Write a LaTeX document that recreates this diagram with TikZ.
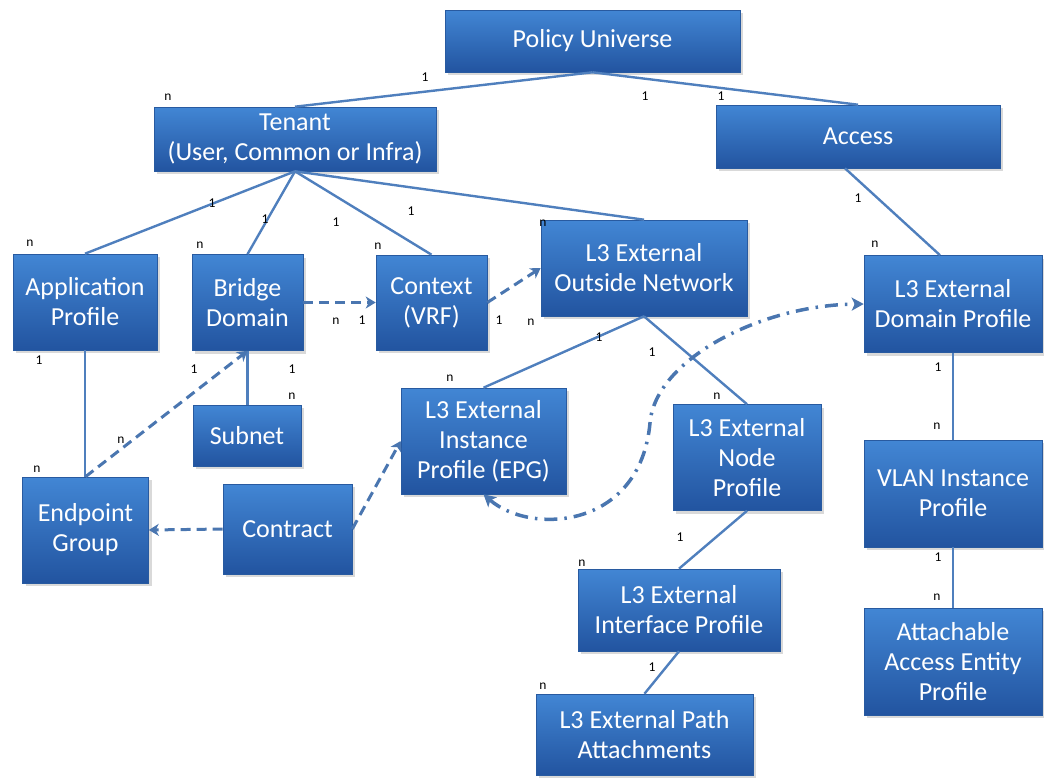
\documentclass[tikz,border=0pt]{standalone}
\usepackage{fontspec}
\setmainfont{Carlito}
\usetikzlibrary{arrows.meta,shadows}
\definecolor{boxtop}{RGB}{66,134,212}
\definecolor{boxbot}{RGB}{34,84,160}
\definecolor{boxedge}{RGB}{40,90,160}
\definecolor{link}{RGB}{79,127,189}
\definecolor{linkdash}{RGB}{74,118,176}

\tikzset{
  box/.style={rectangle, top color=boxtop, bottom color=boxbot, draw=boxedge,
    line width=0.6pt, text=white, align=center,
    font=\fontsize{26}{30}\selectfont, inner sep=0pt,
    drop shadow={opacity=0.3, shadow xshift=3pt, shadow yshift=-3pt}},
  rel/.style={draw=link, line width=2.4pt},
  dep/.style={draw=linkdash, line width=3pt, dash pattern=on 10pt off 6pt,
    -{Stealth[length=10pt,width=12pt,inset=3pt]}},
  realize/.style={draw=linkdash, line width=3.5pt,
    dash pattern=on 13pt off 7pt on 2.5pt off 7pt,
    {Stealth[length=12pt,width=13pt,inset=3pt]}-{Stealth[length=12pt,width=13pt,inset=3pt]}},
  card/.style={font=\fontsize{13.5}{13.5}\selectfont, inner sep=0pt},
}

\begin{document}
\begin{tikzpicture}[x=1pt,y=-1pt]
\useasboundingbox (0,0) rectangle (1044,780);

% object classes
\node[box, minimum width=295pt, minimum height=62pt]  (pu)     at (592.5,41)  {Policy Universe};
\node[box, minimum width=282pt, minimum height=64pt]  (tenant) at (295,139)   {Tenant\\(User, Common or Infra)};
\node[box, minimum width=284pt, minimum height=63pt]  (access) at (858,136.5) {Access};
\node[box, minimum width=144pt, minimum height=96pt]  (app)    at (85,302)    {Application\\Profile};
\node[box, minimum width=111pt, minimum height=96pt]  (bd)     at (247.5,302.5) {Bridge\\Domain};
\node[box, minimum width=111pt, minimum height=95pt]  (ctx)    at (431.5,302.5) {Context\\(VRF)};
\node[box, minimum width=206pt, minimum height=96pt]  (out)    at (644,268)   {L3 External\\Outside Network};
\node[box, minimum width=178pt, minimum height=97pt]  (dom)    at (953,304)   {L3 External\\Domain Profile};
\node[box, minimum width=108pt, minimum height=61pt]  (subnet) at (247,435.5) {Subnet};
\node[box, minimum width=165pt, minimum height=106pt] (inst)   at (483.5,441) {L3 External\\Instance\\Profile (EPG)};
\node[box, minimum width=148pt, minimum height=106pt] (lnode)  at (747,457.5) {L3 External\\Node\\Profile};
\node[box, minimum width=178pt, minimum height=107pt] (vlan)   at (953,493.5) {VLAN Instance\\Profile};
\node[box, minimum width=126pt, minimum height=106pt] (epg)    at (85.5,530)  {Endpoint\\Group};
\node[box, minimum width=129pt, minimum height=90pt]  (contract) at (287.5,529) {Contract};
\node[box, minimum width=202pt, minimum height=82pt]  (intf)   at (679,610)   {L3 External\\Interface Profile};
\node[box, minimum width=178pt, minimum height=107pt] (aaep)   at (953,661.5) {Attachable\\Access Entity\\Profile};
\node[box, minimum width=217pt, minimum height=81pt]  (path)   at (644.5,734.5) {L3 External Path\\Attachments};

% containment
\draw[rel] (pu.south) -- (tenant.north);
\draw[rel] (pu.south) -- (access.north);
\draw[rel] (tenant.south) -- (app.north);
\draw[rel] (tenant.south) -- (bd.north);
\draw[rel] (tenant.south) -- (ctx.north);
\draw[rel] (tenant.south) -- (out.north);
\draw[rel] ([xshift=-13pt]access.south) -- ([xshift=-13pt]dom.north);
\draw[rel] (app.south) -- (app.south |- epg.north);
\draw[rel] (bd.south) -- (bd.south |- subnet.north);
\draw[rel] (out.south) -- (inst.north);
\draw[rel] (out.south) -- (lnode.north);
\draw[rel] (lnode.south) -- (intf.north);
\draw[rel] (intf.south) -- (path.north);
\draw[rel] (dom.south) -- (vlan.north);
\draw[rel] (vlan.south) -- (aaep.north);

% relations
\draw[dep] (bd.east) -- (ctx.west);
\draw[dep] (ctx.east) -- (out.west);
\draw[dep] (epg.north) -- (bd.south);
\draw[dep] (contract.west) -- (epg.east);
\draw[dep] (contract.east) -- (inst.west);
\draw[realize] (inst.south) .. controls (530,535) and (640,530) .. (650,423)
               .. controls (655,360) and (760,305) .. (dom.west);

% cardinalities
\node[card] (c01) at (425,77)  {1};
\node[card] (c02) at (168,97)  {n};
\node[card] (c03) at (645,96)  {1};
\node[card] (c04) at (721,96)  {1};
\node[card] (c05) at (212,203) {1};
\node[card] (c06) at (30,243)  {n};
\node[card] (c07) at (265,219) {1};
\node[card] (c08) at (200,245) {n};
\node[card] (c09) at (336,222) {1};
\node[card] (c10) at (378,246) {n};
\node[card] (c11) at (411,211) {1};
\node[card] (c12) at (543,223) {n};
\node[card] (c13) at (858,198) {1};
\node[card] (c14) at (875,244) {n};
\node[card] (c15) at (336,321) {n};
\node[card] (c16) at (362,320) {1};
\node[card] (c17) at (499,320) {1};
\node[card] (c18) at (531,322) {n};
\node[card] (c19) at (599,337) {1};
\node[card] (c20) at (450,378) {n};
\node[card] (c21) at (652,352) {1};
\node[card] (c22) at (717,396) {n};
\node[card] (c23) at (680,537) {1};
\node[card] (c24) at (582,563) {n};
\node[card] (c25) at (652,667) {1};
\node[card] (c26) at (543,686) {n};
\node[card] (c27) at (938,367) {1};
\node[card] (c28) at (937,426) {n};
\node[card] (c29) at (938,557) {1};
\node[card] (c30) at (937,597) {n};
\node[card] (c31) at (39,360)  {1};
\node[card] (c32) at (37,469)  {n};
\node[card] (c33) at (194,369) {1};
\node[card] (c34) at (292,369) {1};
\node[card] (c35) at (292,396) {n};
\node[card] (c36) at (121,440) {n};
\end{tikzpicture}
\end{document}
